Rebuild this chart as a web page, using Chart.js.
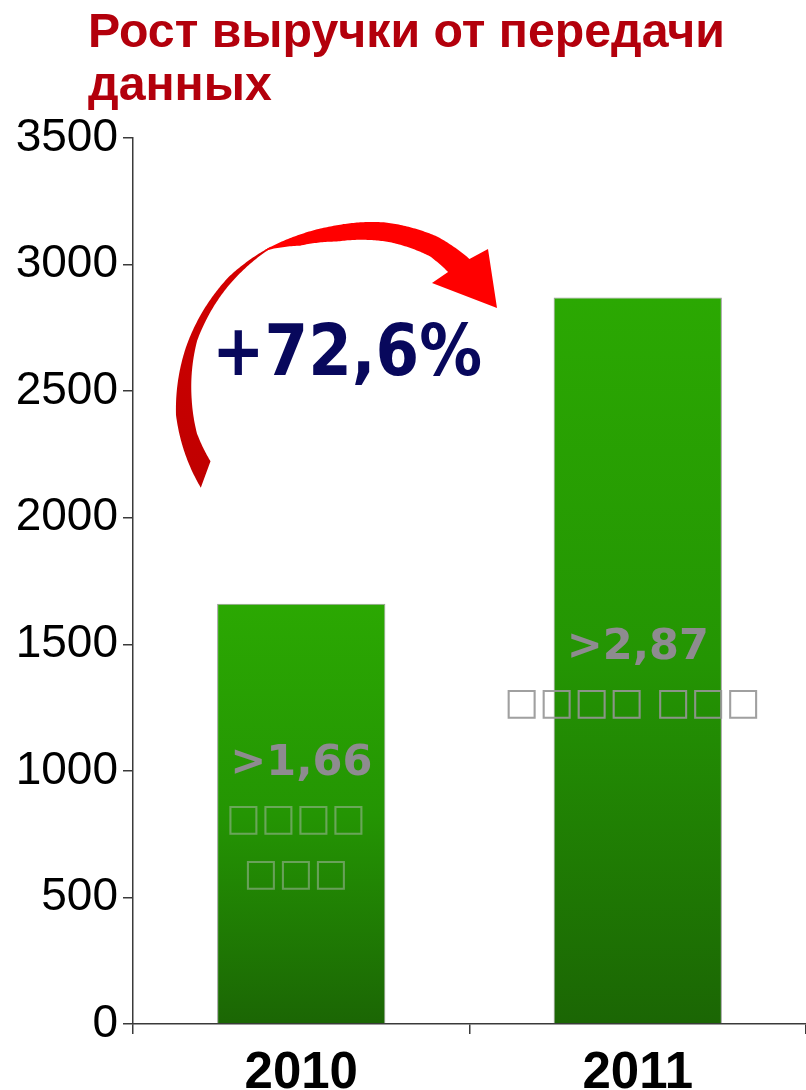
<!DOCTYPE html>
<html>
<head>
<meta charset="utf-8">
<script src="https://cdn.jsdelivr.net/npm/chart.js@4.4.1/dist/chart.umd.min.js"></script>
<style>
html,body{margin:0;padding:0;background:#fff;}
#wrap{width:806px;height:1090px;position:relative;overflow:hidden;}
canvas{display:block;}
</style>
</head>
<body>
<div id="wrap"><canvas id="c" width="806" height="1090" style="width:806px;height:1090px"></canvas></div>
<script>
// ---- data ----
const categories = ['2010', '2011'];
const revenue = [1660, 2870];
const barValueLabels = ['>1,66', '>2,87'];
const barUnitLines = [['□□□□', '□□□'], ['□□□□ □□□']];
const titleLines = ['Рост выручки от передачи', 'данных'];
const growthLabel = '+72,6%';
const yMin = 0, yMax = 3500, yStep = 500;

function fitText(ctx, text, x, y, width, align) {
  const w = ctx.measureText(text).width;
  const sx = width / w;
  ctx.save();
  ctx.translate(x, y);
  ctx.scale(sx, 1);
  ctx.textAlign = align || 'left';
  ctx.fillText(text, 0, 0);
  ctx.restore();
}

function barGradient(context) {
  const chart = context.chart;
  if (!chart.chartArea) return '#25a000';
  const ys = chart.scales.y;
  const top = ys.getPixelForValue(revenue[context.dataIndex]);
  const bottom = ys.getPixelForValue(0);
  const g = chart.ctx.createLinearGradient(0, top, 0, bottom);
  g.addColorStop(0, '#2ba802');
  g.addColorStop(0.5, '#249503');
  g.addColorStop(1, '#1b6604');
  return g;
}

// arrow geometry (decoration): radius profiles vs angle around a centre
const ARC_C = [372, 415];
const outerProfile = [[157, 186], [180, 196], [200, 198], [224, 199], [238, 196.5], [247, 194.5], [258, 193], [274, 193], [290, 190], [302, 184]];
const innerProfile = [[164, 168], [174, 176], [185, 181], [203, 190], [221, 193], [238, 195], [247, 184], [258.5, 177], [275, 174], [290, 169], [298, 162]];
function interp(prof, a) {
  if (a <= prof[0][0]) return prof[0][1];
  for (let i = 1; i < prof.length; i++) {
    if (a <= prof[i][0]) {
      const [a0, r0] = prof[i - 1], [a1, r1] = prof[i];
      return r0 + (r1 - r0) * (a - a0) / (a1 - a0);
    }
  }
  return prof[prof.length - 1][1];
}
function pt(prof, a) {
  const r = interp(prof, a), t = a * Math.PI / 180;
  return [ARC_C[0] + r * Math.cos(t), ARC_C[1] + r * Math.sin(t)];
}

const decorPlugin = {
  id: 'decor',
  afterDatasetsDraw(chart) {
    const ctx = chart.ctx;
    const meta = chart.getDatasetMeta(0);
    const ys = chart.scales.y;
    const anchorVals = [984, 1443];
    meta.data.forEach((bar, i) => {
      const base = ys.getPixelForValue(anchorVals[i]);
      ctx.save();
      ctx.fillStyle = '#8e8b90';
      ctx.font = 'bold 43px "DejaVu Sans"';
      ctx.textBaseline = 'alphabetic';
      ctx.textAlign = 'center';
      ctx.fillText(barValueLabels[i], bar.x, base);
      ctx.font = '37px "DejaVu Sans"';
      ctx.fillStyle = i === 0 ? 'rgba(175,185,175,0.5)' : 'rgba(150,150,150,0.9)';
      barUnitLines[i].forEach((ln, k) => {
        ctx.fillText(ln, bar.x - 5, base + 55 + k * 55);
      });
      ctx.restore();
    });
  },
  afterDraw(chart) {
    const ctx = chart.ctx;
    // title
    ctx.save();
    ctx.fillStyle = '#b3000c';
    ctx.font = 'bold 48px "Liberation Sans"';
    ctx.textBaseline = 'alphabetic';
    const w1 = ctx.measureText(titleLines[0]).width;
    const sx = 637 / w1;
    titleLines.forEach((ln, k) => {
      ctx.save();
      ctx.translate(88, 47 + k * 53);
      ctx.scale(sx, 1);
      ctx.fillText(ln, 0, 0);
      ctx.restore();
    });
    ctx.restore();

    // curved arrow, part 1: dark lower-left ribbon
    ctx.save();
    ctx.beginPath();
    let p = pt(outerProfile, 157);
    ctx.moveTo(p[0], p[1]);
    for (let a = 158; a <= 239; a += 0.5) { p = pt(outerProfile, a); ctx.lineTo(p[0], p[1]); }
    for (let a = 239; a >= 164; a -= 0.5) { p = pt(innerProfile, a); ctx.lineTo(p[0], p[1]); }
    ctx.closePath();
    const g1 = ctx.createLinearGradient(185, 480, 260, 250);
    g1.addColorStop(0, '#c00000');
    g1.addColorStop(0.5, '#c80000');
    g1.addColorStop(1, '#d80000');
    ctx.fillStyle = g1;
    ctx.fill();

    // part 2: bright upper ribbon + head
    ctx.beginPath();
    p = pt(outerProfile, 237);
    ctx.moveTo(p[0], p[1]);
    for (let a = 237.5; a <= 302; a += 0.5) { p = pt(outerProfile, a); ctx.lineTo(p[0], p[1]); }
    ctx.lineTo(488, 249);
    ctx.lineTo(497, 308);
    ctx.lineTo(432, 283);
    for (let a = 298; a >= 237; a -= 0.5) { p = pt(innerProfile, a); ctx.lineTo(p[0], p[1]); }
    ctx.closePath();
    ctx.fillStyle = '#ff0000';
    ctx.fill();
    ctx.restore();

    // growth label
    ctx.save();
    ctx.fillStyle = '#08085c';
    ctx.font = 'bold 72px "DejaVu Sans"';
    ctx.textBaseline = 'alphabetic';
    fitText(ctx, growthLabel, 212, 375, 270, 'left');
    ctx.restore();
  }
};

new Chart(document.getElementById('c'), {
  type: 'bar',
  data: {
    labels: categories,
    datasets: [{
      data: revenue,
      backgroundColor: barGradient,
      borderColor: '#9a9a9a',
      borderWidth: { top: 1, left: 1, right: 1, bottom: 0 },
      borderSkipped: 'bottom',
      barPercentage: 0.5,
      categoryPercentage: 1.0
    }]
  },
  options: {
    responsive: false,
    animation: false,
    devicePixelRatio: 1,
    layout: { padding: { top: 138, right: 0, left: 0, bottom: 0 } },
    plugins: { legend: { display: false }, tooltip: { enabled: false }, title: { display: false } },
    scales: {
      x: {
        grid: { display: true, drawOnChartArea: false, tickLength: 10, color: '#3a3a3a', lineWidth: 1.5, offset: true },
        border: { display: true, color: '#3a3a3a', width: 1.5 },
        ticks: { color: '#000', font: { family: 'Liberation Sans', size: 51, weight: 'bold' }, padding: 9 },
        afterFit(s) { s.height = 66; }
      },
      y: {
        min: yMin, max: yMax,
        grid: { display: true, drawOnChartArea: false, tickLength: 10, color: '#3a3a3a', lineWidth: 1.5 },
        border: { display: true, color: '#3a3a3a', width: 1.5 },
        ticks: { stepSize: yStep, color: '#000', font: { family: 'Liberation Sans', size: 46 }, padding: 5,
                 callback: (v) => String(v) },
        afterFit(s) { s.width = 133; }
      }
    }
  },
  plugins: [decorPlugin]
});
</script>
</body>
</html>
